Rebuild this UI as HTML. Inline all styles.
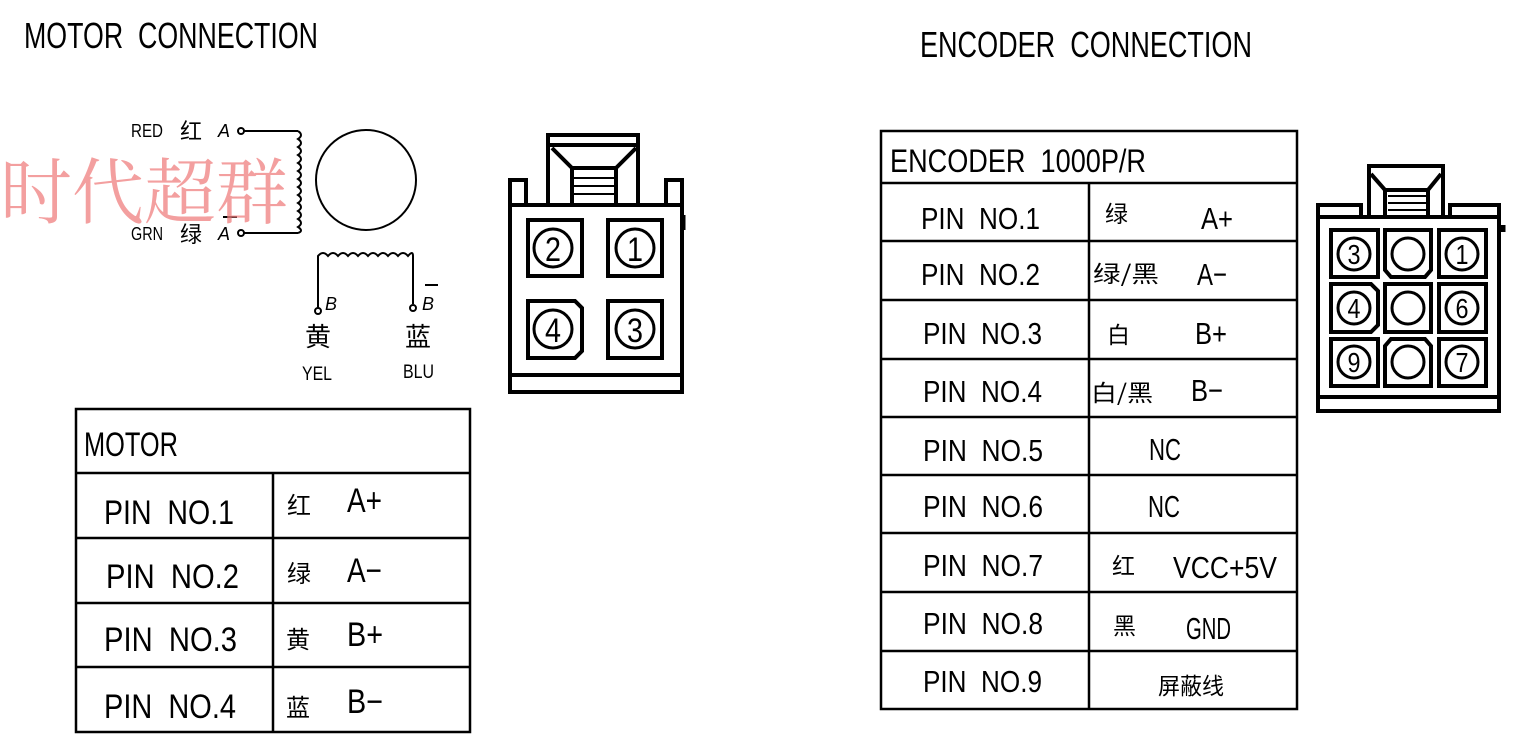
<!DOCTYPE html>
<html><head><meta charset="utf-8"><style>
html,body{margin:0;padding:0;background:#fff;}
svg{display:block;}
text{font-family:"Liberation Sans","Noto Sans CJK SC",sans-serif;fill:#000;white-space:pre;}
.cj{font-family:"Noto Sans CJK SC",sans-serif;}
</style></head><body>
<svg width="1521" height="748" viewBox="0 0 1521 748" xmlns="http://www.w3.org/2000/svg" xml:space="preserve">
<rect width="1521" height="748" fill="#fff"/>
<text x="24" y="48" font-size="36" textLength="294" lengthAdjust="spacingAndGlyphs">MOTOR  CONNECTION</text>
<text x="920" y="57" font-size="36" textLength="332" lengthAdjust="spacingAndGlyphs">ENCODER  CONNECTION</text>

<g stroke="#000" stroke-width="2" fill="none">
<circle cx="366" cy="180" r="50"/>
<circle cx="241" cy="131" r="3"/>
<circle cx="241" cy="233" r="3"/>
<path d="M244 131 H298 M244 233 H298"/>
<path d="M298 131 q6 4 0 8 q6 4 0 8 q6 4 0 8 q6 4 0 8 q6 4 0 8 q6 4 0 8 q6 4 0 8 q6 4 0 8 q6 4 0 8 q6 4 0 8 q6 4 0 8 q6 4 0 8 q6 4 0 6"/>
<path d="M318 308 V256 q5 -6 10 0 q5 -6 10 0 q5 -6 10 0 q5 -6 10 0 q5 -6 10 0 q5 -6 10 0 q5 -6 10 0 q5 -6 10 0 q5 -6 10 0 q5 -6 5 0 V304"/>
<circle cx="318" cy="311" r="3"/>
<circle cx="413" cy="308" r="3"/>
<path d="M223 217 H237 M425 285 H438"/>
</g>
<text x="131" y="137" font-size="18" textLength="32" lengthAdjust="spacingAndGlyphs">RED</text>
<text x="180" y="139" font-size="22" class="cj">红</text>
<text x="218" y="137" font-size="18" font-style="italic">A</text>
<text x="131" y="240" font-size="18" textLength="32" lengthAdjust="spacingAndGlyphs">GRN</text>
<text x="180" y="242" font-size="22" class="cj">绿</text>
<text x="218" y="240" font-size="18" font-style="italic">A</text>
<text x="325" y="310" font-size="18" font-style="italic">B</text>
<text x="422" y="310" font-size="18" font-style="italic">B</text>
<text x="305" y="346" font-size="26" class="cj">黄</text>
<text x="405" y="346" font-size="26" class="cj">蓝</text>
<text x="302" y="380" font-size="19" textLength="30" lengthAdjust="spacingAndGlyphs">YEL</text>
<text x="403" y="378" font-size="19" textLength="31" lengthAdjust="spacingAndGlyphs">BLU</text>

<text x="0" y="218" font-size="72" opacity="0.75" style="font-family:'Noto Serif CJK SC',serif;fill:#f08080">时代超群</text>

<g stroke="#000" stroke-width="4" fill="none">
<rect x="510" y="205" width="172" height="187"/>
<path d="M510 375 H682"/>
<path d="M510 205 V180 H526 V205 M682 205 V180 H666 V205"/>
<path d="M548 205 V135 H638 V205 M548 145 H638 M552 148 L572 168 H616 L636 148 M572 168 V205 M616 168 V205"/>
<path d="M683 215 V230" stroke-width="5"/>
<rect x="528" y="220" width="54" height="56"/>
<rect x="608" y="220" width="54" height="56"/>
<path d="M528 301 H575 L582 308 V351 L575 358 H528 Z"/>
<rect x="608" y="301" width="54" height="57"/>
<circle cx="553" cy="248" r="19" stroke-width="3"/>
<circle cx="635" cy="248" r="19" stroke-width="3"/>
<circle cx="553" cy="329" r="19" stroke-width="3"/>
<circle cx="635" cy="329" r="19" stroke-width="3"/>
</g>
<g stroke="#000" stroke-width="2"><path d="M572 178 H616 M572 186 H616 M572 194 H616"/></g>
<text x="553" y="261" font-size="34" text-anchor="middle" textLength="16" lengthAdjust="spacingAndGlyphs">2</text>
<text x="635" y="261" font-size="34" text-anchor="middle" textLength="16" lengthAdjust="spacingAndGlyphs">1</text>
<text x="553" y="342" font-size="34" text-anchor="middle" textLength="16" lengthAdjust="spacingAndGlyphs">4</text>
<text x="635" y="342" font-size="34" text-anchor="middle" textLength="16" lengthAdjust="spacingAndGlyphs">3</text>

<g stroke="#000" stroke-width="4" fill="none">
<rect x="1318" y="217" width="181" height="194"/>
<path d="M1318 397 H1499"/>
<path d="M1318 217 V205 H1361 V217 M1499 217 V205 H1450 V217"/>
<path d="M1369 217 V166 H1443 V217 M1371 174 L1385 190 H1428 L1441 174 M1385 190 V217 M1428 190 V217"/>
<path d="M1503 225 V232" stroke-width="5"/>
<rect x="1331" y="230" width="47" height="47"/>
<path d="M1385 230 H1431 V270 L1425 277 H1391 L1385 270 Z"/>
<rect x="1439" y="230" width="47" height="47"/>
<path d="M1331 284 H1371 L1378 291 V325 L1371 332 H1331 Z"/>
<rect x="1385" y="284" width="46" height="48"/>
<rect x="1439" y="284" width="47" height="48"/>
<rect x="1331" y="339" width="47" height="47"/>
<path d="M1391 339 H1425 L1431 346 V386 H1385 V346 Z"/>
<rect x="1439" y="339" width="47" height="47"/>
<g stroke-width="3">
<circle cx="1354" cy="254" r="16"/><circle cx="1408" cy="254" r="16"/><circle cx="1462" cy="254" r="16"/>
<circle cx="1354" cy="308" r="16"/><circle cx="1408" cy="308" r="16"/><circle cx="1462" cy="308" r="16"/>
<circle cx="1354" cy="362" r="16"/><circle cx="1408" cy="362" r="16"/><circle cx="1462" cy="362" r="16"/>
</g>
</g>
<g stroke="#000" stroke-width="2"><path d="M1388 196 H1426 M1388 203 H1426 M1388 210 H1426"/></g>
<g font-size="28" text-anchor="middle">
<text x="1354" y="264" textLength="13" lengthAdjust="spacingAndGlyphs">3</text>
<text x="1462" y="264" textLength="13" lengthAdjust="spacingAndGlyphs">1</text>
<text x="1354" y="318" textLength="13" lengthAdjust="spacingAndGlyphs">4</text>
<text x="1462" y="318" textLength="13" lengthAdjust="spacingAndGlyphs">6</text>
<text x="1354" y="372" textLength="13" lengthAdjust="spacingAndGlyphs">9</text>
<text x="1462" y="372" textLength="13" lengthAdjust="spacingAndGlyphs">7</text>
</g>

<g stroke="#000" stroke-width="2.5" fill="none">
<rect x="76" y="409" width="394" height="323"/>
<path d="M76 473 H470 M76 538 H470 M76 603 H470 M76 667 H470 M273 473 V732"/>
</g>
<text x="84" y="456" font-size="34" textLength="94" lengthAdjust="spacingAndGlyphs">MOTOR</text>
<g font-size="34">
<text x="104" y="524" textLength="130" lengthAdjust="spacingAndGlyphs">PIN  NO.1</text>
<text x="106" y="588" textLength="133" lengthAdjust="spacingAndGlyphs">PIN  NO.2</text>
<text x="104" y="651" textLength="133" lengthAdjust="spacingAndGlyphs">PIN  NO.3</text>
<text x="104" y="718" textLength="132" lengthAdjust="spacingAndGlyphs">PIN  NO.4</text>
<text x="347" y="512" textLength="35" lengthAdjust="spacingAndGlyphs">A+</text>
<text x="347" y="582" textLength="35" lengthAdjust="spacingAndGlyphs">A−</text>
<text x="347" y="646" textLength="36" lengthAdjust="spacingAndGlyphs">B+</text>
<text x="347" y="713" textLength="36" lengthAdjust="spacingAndGlyphs">B−</text>
</g>
<g font-size="24" class="cj">
<text x="287" y="514" class="cj">红</text>
<text x="287" y="582" class="cj">绿</text>
<text x="286" y="648" class="cj">黄</text>
<text x="286" y="716" class="cj">蓝</text>
</g>

<g stroke="#000" stroke-width="2.5" fill="none">
<rect x="881" y="131" width="416" height="578"/>
<path d="M881 183 H1297 M881 241 H1297 M881 300 H1297 M881 359 H1297 M881 417 H1297 M881 475 H1297 M881 533 H1297 M881 592 H1297 M881 651 H1297 M1089 183 V709"/>
</g>
<text x="890" y="172" font-size="32" textLength="256" lengthAdjust="spacingAndGlyphs">ENCODER  1000P/R</text>
<g font-size="31">
<text x="921" y="229" textLength="119" lengthAdjust="spacingAndGlyphs">PIN  NO.1</text>
<text x="921" y="285" textLength="119" lengthAdjust="spacingAndGlyphs">PIN  NO.2</text>
<text x="923" y="344" textLength="119" lengthAdjust="spacingAndGlyphs">PIN  NO.3</text>
<text x="923" y="402" textLength="119" lengthAdjust="spacingAndGlyphs">PIN  NO.4</text>
<text x="923" y="461" textLength="120" lengthAdjust="spacingAndGlyphs">PIN  NO.5</text>
<text x="923" y="517" textLength="120" lengthAdjust="spacingAndGlyphs">PIN  NO.6</text>
<text x="923" y="576" textLength="120" lengthAdjust="spacingAndGlyphs">PIN  NO.7</text>
<text x="923" y="634" textLength="120" lengthAdjust="spacingAndGlyphs">PIN  NO.8</text>
<text x="923" y="692" textLength="119" lengthAdjust="spacingAndGlyphs">PIN  NO.9</text>
<text x="1201" y="229" textLength="32" lengthAdjust="spacingAndGlyphs">A+</text>
<text x="1197" y="285" textLength="30" lengthAdjust="spacingAndGlyphs">A−</text>
<text x="1195" y="344" textLength="32" lengthAdjust="spacingAndGlyphs">B+</text>
<text x="1191" y="401" textLength="32" lengthAdjust="spacingAndGlyphs">B−</text>
<text x="1149" y="460" textLength="32" lengthAdjust="spacingAndGlyphs">NC</text>
<text x="1148" y="517" textLength="32" lengthAdjust="spacingAndGlyphs">NC</text>
<text x="1173" y="578" textLength="104" lengthAdjust="spacingAndGlyphs">VCC+5V</text>
<text x="1186" y="639" textLength="45" lengthAdjust="spacingAndGlyphs">GND</text>
</g>
<g font-size="23" class="cj">
<text x="1105" y="222" class="cj">绿</text>
<text x="1093" y="282" class="cj" textLength="66" lengthAdjust="spacingAndGlyphs">绿/黑</text>
<text x="1107" y="343" class="cj">白</text>
<text x="1091" y="401" class="cj" textLength="62" lengthAdjust="spacingAndGlyphs">白/黑</text>
<text x="1112" y="574" class="cj">红</text>
<text x="1113" y="634" class="cj">黑</text>
<text x="1158" y="694" class="cj" textLength="66" lengthAdjust="spacingAndGlyphs">屏蔽线</text>
</g>
</svg>
</body></html>
